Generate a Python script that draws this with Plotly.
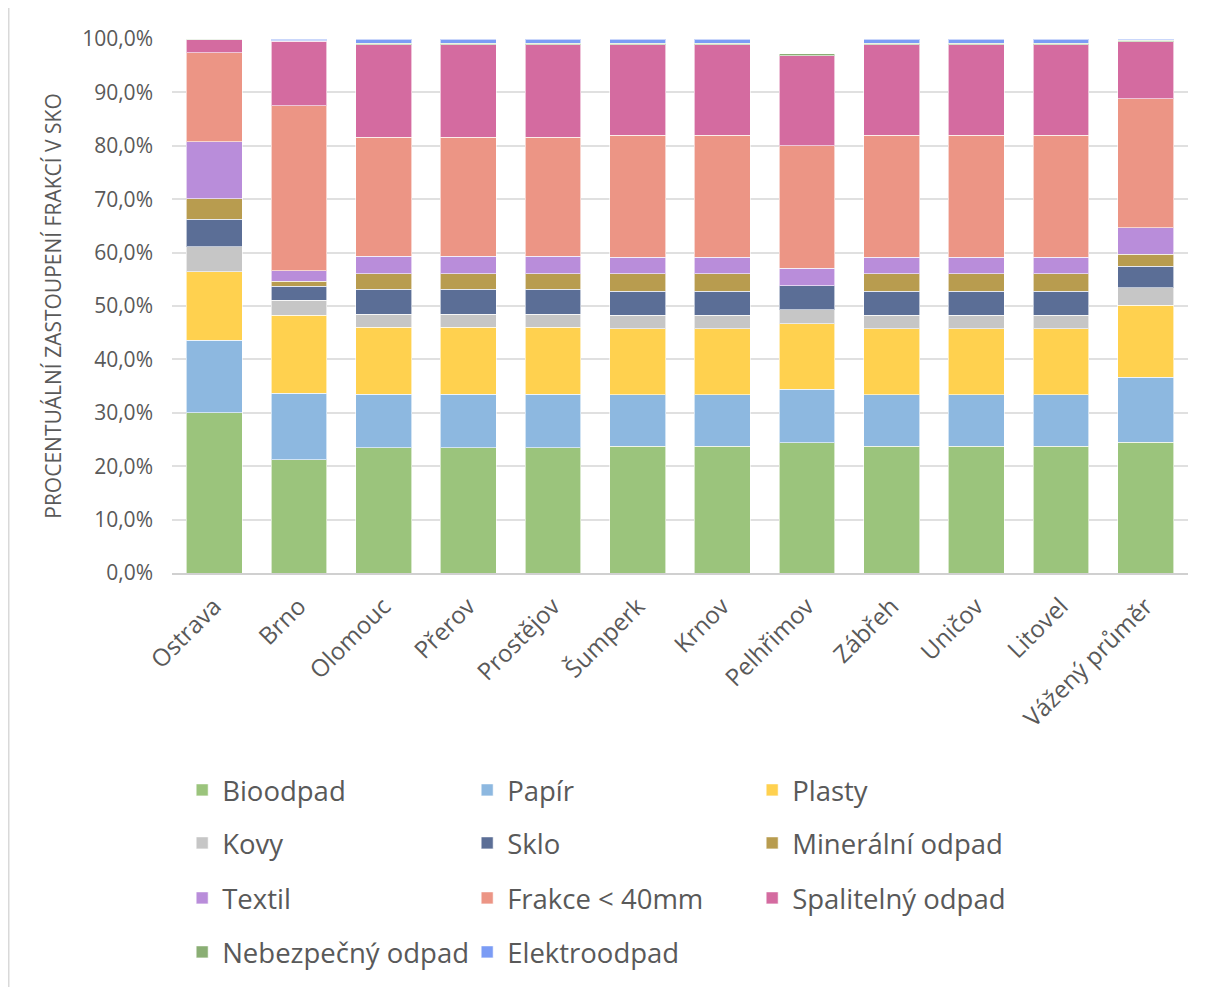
import plotly.graph_objects as go

categories = ["Ostrava", "Brno", "Olomouc", "Přerov", "Prostějov", "Šumperk", "Krnov",
              "Pelhřimov", "Zábřeh", "Uničov", "Litovel", "Vážený průměr"]

series_names = ["Bioodpad", "Papír", "Plasty", "Kovy", "Sklo", "Minerální odpad",
                "Textil", "Frakce < 40mm", "Spalitelný odpad", "Nebezpečný odpad", "Elektroodpad"]

bioodpad   = [30.0, 21.2, 23.5, 23.5, 23.5, 23.7, 23.7, 24.4, 23.7, 23.7, 23.7, 24.5]
papir      = [13.6, 12.5, 10.0, 10.0, 10.0,  9.7,  9.7, 10.0,  9.7,  9.7,  9.7, 12.2]
plasty     = [12.8, 14.6, 12.5, 12.5, 12.5, 12.3, 12.3, 12.3, 12.3, 12.3, 12.3, 13.4]
kovy       = [ 4.7,  2.8,  2.5,  2.5,  2.5,  2.6,  2.6,  2.6,  2.6,  2.6,  2.6,  3.3]
sklo       = [ 5.1,  2.6,  4.6,  4.6,  4.6,  4.5,  4.5,  4.5,  4.5,  4.5,  4.5,  4.0]
mineralni  = [ 3.9,  0.9,  2.9,  2.9,  2.9,  3.2,  3.2,  0.0,  3.2,  3.2,  3.2,  2.3]
textil     = [10.7,  2.0,  3.3,  3.3,  3.3,  3.1,  3.1,  3.3,  3.1,  3.1,  3.1,  5.0]
frakce     = [16.6, 30.9, 22.3, 22.3, 22.3, 22.9, 22.9, 22.9, 22.9, 22.9, 22.9, 24.1]
spalitelny = [ 2.5, 12.1, 17.3, 17.3, 17.3, 16.9, 16.9, 16.9, 16.9, 16.9, 16.9, 10.7]
nebezpecny = [ 0.1,  0.1,  0.3,  0.3,  0.3,  0.3,  0.3,  0.3,  0.3,  0.3,  0.3,  0.3]
elektro    = [ 0.0,  0.3,  0.8,  0.8,  0.8,  0.8,  0.8,  0.0,  0.8,  0.8,  0.8,  0.2]

series_values = [bioodpad, papir, plasty, kovy, sklo, mineralni, textil, frakce,
                 spalitelny, nebezpecny, elektro]

colors = ["#9BC47C", "#8DB8E0", "#FFD14F", "#C6C6C6", "#5B6E96", "#B89C4F",
          "#B98DDA", "#EC9585", "#D46BA0", "#8AAE74", "#7B9CF5"]

y_ticks = [0, 10, 20, 30, 40, 50, 60, 70, 80, 90, 100]
y_tick_text = ["0,0%", "10,0%", "20,0%", "30,0%", "40,0%", "50,0%",
               "60,0%", "70,0%", "80,0%", "90,0%", "100,0%"]

legend_ids = ["legend", "legend2", "legend3", "legend4"]

fig = go.Figure()
for i, (name, vals, col) in enumerate(zip(series_names, series_values, colors)):
    fig.add_trace(go.Bar(
        x=categories, y=vals, name=name,
        marker=dict(color=col, line=dict(color="rgba(255,255,255,0.6)", width=1)),
        legend=legend_ids[i // 3],
    ))

txt = "#595959"
W, H = 1198, 979
L, R, T, B = 164, 18, 31, 414
plot_h = H - T - B
plot_w = W - L - R

row_centers = [782, 835, 890, 944]  # figure pixel rows of legend entries
legend_common = dict(
    orientation="h", x=0.010, xanchor="left", yanchor="middle",
    font=dict(size=27.5, color=txt),
    entrywidth=240, entrywidthmode="pixels",
    traceorder="normal", itemwidth=30, bgcolor="rgba(0,0,0,0)",
)
legends = {}
for lid, yc in zip(legend_ids, row_centers):
    legends[lid] = dict(legend_common, y=(H - B - yc) / plot_h)

fig.update_layout(
    barmode="stack",
    bargap=0.34,
    width=W, height=H,
    margin=dict(l=L, r=R, t=T, b=B, autoexpand=False),
    plot_bgcolor="white", paper_bgcolor="white",
    font=dict(family="Open Sans", color=txt),
    xaxis=dict(
        tickangle=-45, tickfont=dict(size=24, color=txt),
        showline=True, linecolor="#D0D0D0", linewidth=1.5,
        ticks="", showgrid=False, ticklabelstandoff=8,
    ),
    yaxis=dict(
        range=[0, 100], tickvals=y_ticks, ticktext=y_tick_text,
        tickfont=dict(size=21, color=txt), ticklabelstandoff=18,
        showgrid=True, gridcolor="#E0E0E0", gridwidth=1.5,
        zeroline=False, showline=False, ticks="",
        title=dict(text="PROCENTUÁLNÍ ZASTOUPENÍ FRAKCÍ V SKO",
                   font=dict(size=21, color=txt), standoff=14),
    ),
    showlegend=True,
    **legends,
)

fig.add_shape(type="line", xref="paper", yref="paper",
              x0=-L / plot_w, x1=-L / plot_w, y0=-B / plot_h, y1=1 + T / plot_h,
              line=dict(color="#D9D9D9", width=3))

fig.write_html("out.html")
